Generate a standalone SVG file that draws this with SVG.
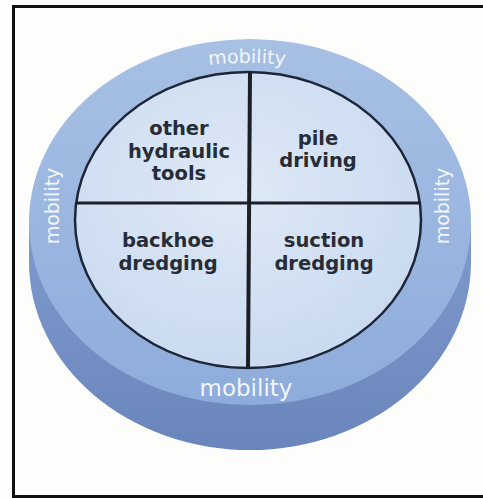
<svg xmlns="http://www.w3.org/2000/svg" width="483" height="498" viewBox="0 0 483 498">
<style>
.lbl{font-family:"DejaVu Sans","Verdana",sans-serif;font-weight:bold;font-size:19.5px;fill:#262c38;text-anchor:middle}
.mob{font-family:"DejaVu Sans","Verdana",sans-serif;font-size:19px;fill:#f2f6fb;text-anchor:middle}
</style>
<defs>
<linearGradient id="ring" x1="0" y1="0" x2="0" y2="1">
<stop offset="0" stop-color="#a7c0e4"/>
<stop offset="1" stop-color="#8eacdb"/>
</linearGradient>
<linearGradient id="side" x1="0" y1="0" x2="0" y2="1">
<stop offset="0" stop-color="#7f9bcd"/>
<stop offset="1" stop-color="#6a85bb"/>
</linearGradient>
<radialGradient id="face" cx="0.45" cy="0.4" r="0.7">
<stop offset="0" stop-color="#dfe9f6"/>
<stop offset="1" stop-color="#c6d8ef"/>
</radialGradient>
</defs>
<rect x="0" y="0" width="483" height="498" fill="#fdfdfc"/>
<rect x="13.5" y="6.5" width="480" height="490" fill="none" stroke="#111" stroke-width="3"/>
<g id="disk">
<path d="M29,222 L29,262 A221,188 0 0 0 471,262 L471,222 Z" fill="url(#side)"/>
<ellipse cx="250" cy="222" rx="221" ry="183" fill="url(#ring)"/>
<ellipse cx="248" cy="220" rx="173" ry="148" fill="url(#face)" stroke="#1c2636" stroke-width="2.5"/>
</g>
<g id="connectors">
<line x1="250" y1="72" x2="248" y2="368" stroke="#1c1f26" stroke-width="4"/>
<line x1="76" y1="203" x2="421" y2="203" stroke="#1c1f26" stroke-width="3"/>
</g>
<g id="other-hydraulic-tools">
<text class="lbl" x="179" y="135">other</text>
<text class="lbl" x="179" y="158">hydraulic</text>
<text class="lbl" x="179" y="180">tools</text>
</g>
<g id="pile-driving">
<text class="lbl" x="318" y="145">pile</text>
<text class="lbl" x="318" y="167">driving</text>
</g>
<g id="backhoe-dredging">
<text class="lbl" x="168" y="247">backhoe</text>
<text class="lbl" x="168" y="270">dredging</text>
</g>
<g id="suction-dredging">
<text class="lbl" x="324" y="247">suction</text>
<text class="lbl" x="324" y="270">dredging</text>
</g>
<g id="mobility-labels">
<path id="topArc" d="M170,72 Q247,54 324,72" fill="none"/>
<text class="mob"><textPath href="#topArc" startOffset="50%">mobility</textPath></text>
<text class="mob" style="font-size:23px" x="246" y="396">mobility</text>
<text class="mob" transform="translate(59,206) rotate(-90)">mobility</text>
<text class="mob" transform="translate(449,206) rotate(-90)">mobility</text>
</g>
</svg>
